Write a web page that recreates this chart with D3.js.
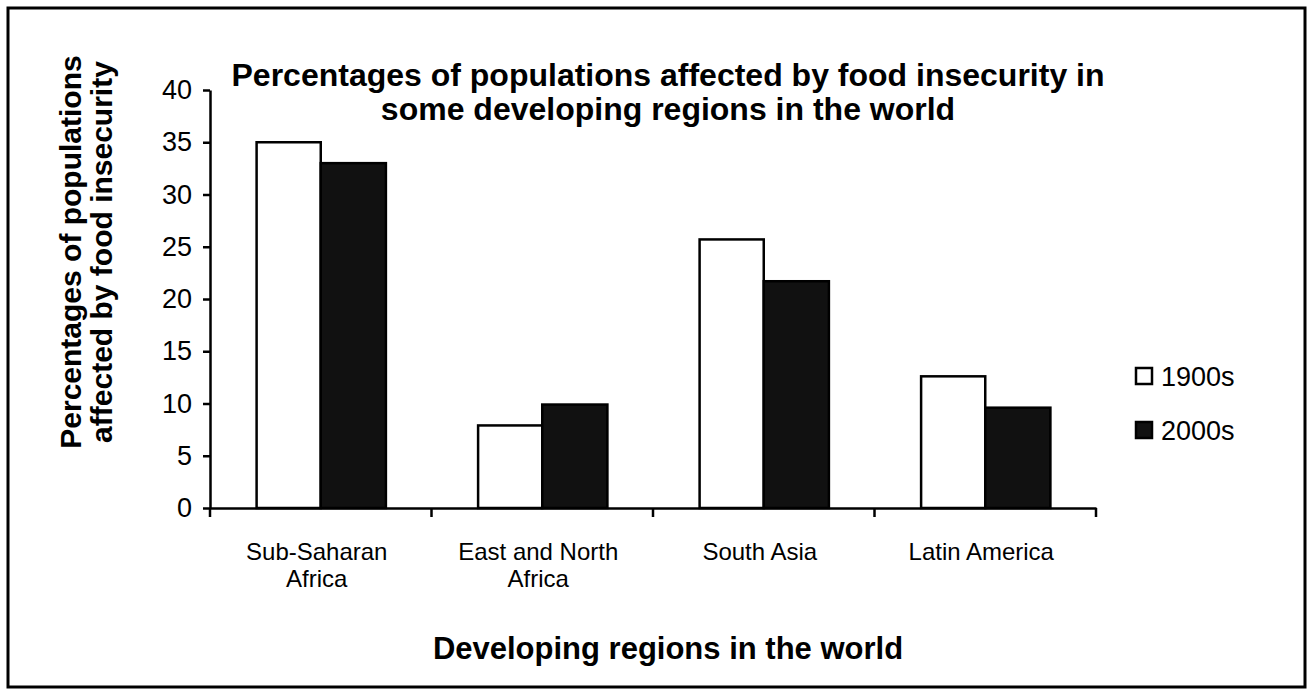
<!DOCTYPE html>
<html>
<head>
<meta charset="utf-8">
<script src="https://cdn.jsdelivr.net/npm/d3@7"></script>
<style>
  html, body { margin: 0; padding: 0; background: #fff; }
  svg { display: block; font-family: "Liberation Sans", Arial, sans-serif; }
</style>
</head>
<body>
<svg id="chart" width="1316" height="692"></svg>
<script>
// Regions and their food-insecurity percentages
const regions = ["Sub-Saharan Africa", "East and North Africa", "South Asia", "Latin America"];
const regionLines = [["Sub-Saharan", "Africa"], ["East and North", "Africa"], ["South Asia"], ["Latin America"]];
const seriesNames = ["1900s", "2000s"];
const values1900s = [35, 7.9, 25.7, 12.6];
const values2000s = [33, 9.9, 21.7, 9.6];
const yTicks = [0, 5, 10, 15, 20, 25, 30, 35, 40];
const seriesFill = ["#ffffff", "#111111"];

const titleLines = ["Percentages of populations affected by food insecurity in", "some developing regions in the world"];
const yTitleLines = ["Percentages of populations", "affected by food insecurity"];
const xTitle = "Developing regions in the world";

const svg = d3.select("#chart");

// outer frame
svg.append("rect")
  .attr("x", 8).attr("y", 8).attr("width", 1297).attr("height", 679)
  .attr("fill", "none").attr("stroke", "#000").attr("stroke-width", 3);

const plot = { left: 210, right: 1096, top: 90, bottom: 508 };

const x = d3.scaleBand().domain(regions).range([plot.left, plot.right]).padding(0);
const x1 = d3.scaleBand().domain(seriesNames).range([0, x.bandwidth()]).paddingInner(0).paddingOuter(0.7);
const y = d3.scaleLinear().domain([0, 40]).range([plot.bottom, plot.top]);

const rows = regions.map((r, i) => ({ region: r, vals: [values1900s[i], values2000s[i]] }));

// bars
const groups = svg.append("g").selectAll("g").data(rows).join("g")
  .attr("transform", d => `translate(${x(d.region)},0)`);
groups.selectAll("rect")
  .data(d => d.vals.map((v, k) => ({ key: seriesNames[k], v, k })))
  .join("rect")
  .attr("x", d => x1(d.key) + (d.k === 0 ? 1 : 0))
  .attr("y", d => y(d.v))
  .attr("width", d => x1.bandwidth() - (d.k === 0 ? 1 : 0))
  .attr("height", d => y(0) - y(d.v))
  .attr("fill", d => seriesFill[d.k])
  .attr("stroke", "#000")
  .attr("stroke-width", 2.5);

// y axis
const yAxis = svg.append("g")
  .attr("transform", `translate(${plot.left},0)`)
  .call(d3.axisLeft(y).tickValues(yTicks).tickSize(7).tickSizeOuter(0).tickPadding(11));
yAxis.select(".domain").attr("stroke", "#000").attr("stroke-width", 2.5);
yAxis.selectAll(".tick line").attr("stroke", "#000").attr("stroke-width", 2.5);
yAxis.selectAll(".tick text").attr("font-size", 27).attr("fill", "#000")
  .attr("font-family", "Liberation Sans, Arial, sans-serif");

// x axis with category labels
const xAxis = svg.append("g")
  .attr("transform", `translate(0,${plot.bottom})`)
  .call(d3.axisBottom(x).tickSize(0).tickSizeOuter(0).tickFormat(() => ""));
xAxis.select(".domain").attr("stroke", "#000").attr("stroke-width", 2.5);

// boundary tick marks between categories
const boundaries = d3.range(regions.length + 1).map(i => plot.left + i * x.step());
xAxis.selectAll("line.bound").data(boundaries).join("line")
  .attr("class", "bound")
  .attr("x1", d => d).attr("x2", d => d)
  .attr("y1", 0).attr("y2", 9)
  .attr("stroke", "#000").attr("stroke-width", 2.5);

xAxis.selectAll(".tick").each(function(d, i) {
  const t = d3.select(this).select("text")
    .attr("y", 0).attr("dy", null)
    .attr("font-size", 24).attr("fill", "#000")
    .attr("font-family", "Liberation Sans, Arial, sans-serif");
  t.selectAll("tspan").data(regionLines[i]).join("tspan")
    .attr("x", -4)
    .attr("y", (l, j) => 52 + j * 27)
    .text(l => l);
});

// chart title
svg.append("text")
  .attr("text-anchor", "middle").attr("font-weight", "bold").attr("font-size", 32)
  .selectAll("tspan").data(titleLines).join("tspan")
  .attr("x", 668).attr("y", (d, i) => 86 + i * 34)
  .text(d => d);

// y axis title
svg.append("g")
  .selectAll("text").data(yTitleLines).join("text")
  .attr("text-anchor", "middle").attr("font-weight", "bold").attr("font-size", 30)
  .attr("transform", (d, i) => `translate(${81 + i * 31},252) rotate(-90)`)
  .text(d => d);

// x axis title
svg.append("text")
  .attr("x", 668).attr("y", 659)
  .attr("text-anchor", "middle").attr("font-weight", "bold").attr("font-size", 31)
  .text(xTitle);

// legend
const legend = svg.append("g").attr("transform", "translate(1136,368)");
const li = legend.selectAll("g").data(seriesNames).join("g")
  .attr("transform", (d, i) => `translate(0,${i * 54})`);
li.append("rect")
  .attr("x", 0).attr("y", 0).attr("width", 16).attr("height", 16)
  .attr("fill", (d, i) => seriesFill[i]).attr("stroke", "#000").attr("stroke-width", 2.5);
li.append("text")
  .attr("x", 25).attr("y", 18)
  .attr("font-size", 27).attr("fill", "#000")
  .text(d => d);
</script>
</body>
</html>
